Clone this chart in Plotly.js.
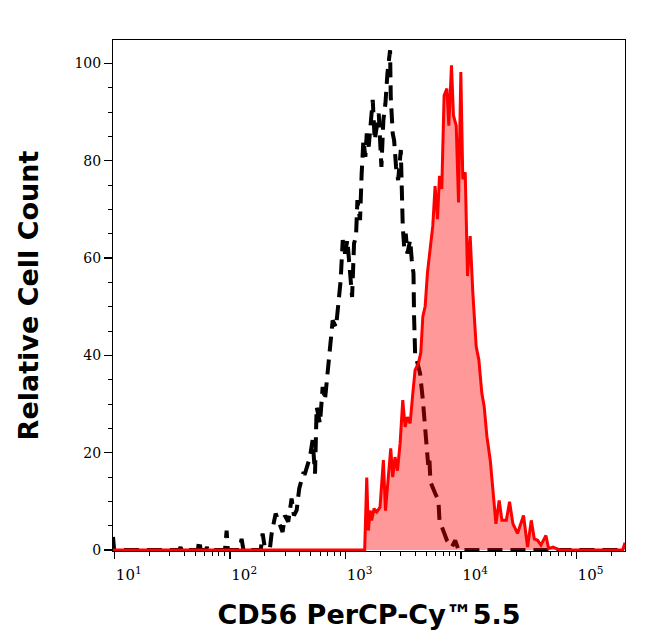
<!DOCTYPE html>
<html>
<head>
<meta charset="utf-8">
<script src="https://cdn.plot.ly/plotly-3.0.1.min.js"></script>
<style>html,body{margin:0;padding:0;background:#fff;}#chart{width:646px;height:641px;}</style>
</head>
<body>
<div id="chart"></div>
<script>
// Isotype control (black dashed): log10 of fluorescence, relative count
const controlLog = [0.985, 0.995, 1.56, 1.570, 1.58, 1.72, 1.731, 1.745, 1.79, 1.80, 1.81, 1.955, 1.969, 1.98, 2.08, 2.099, 2.115, 2.265, 2.281, 2.30, 2.345, 2.359, 2.394, 2.454, 2.474, 2.503, 2.532, 2.552, 2.576, 2.598, 2.633, 2.648, 2.691, 2.714, 2.735, 2.749, 2.778, 2.801, 2.821, 2.850, 2.865, 2.888, 2.917, 2.937, 2.957, 2.975, 2.995, 3.015, 3.038, 3.056, 3.073, 3.090, 3.102, 3.125, 3.139, 3.154, 3.171, 3.183, 3.200, 3.217, 3.235, 3.252, 3.270, 3.287, 3.310, 3.327, 3.345, 3.362, 3.385, 3.391, 3.408, 3.420, 3.437, 3.455, 3.478, 3.486, 3.495, 3.507, 3.521, 3.535, 3.559, 3.573, 3.588, 3.593, 3.602, 3.616, 3.645, 3.669, 3.700, 3.715, 3.725, 3.735, 3.776, 3.804, 3.813, 3.848, 3.877, 3.920, 3.949, 3.978, 5.42];
const controlCount = [2.7, 0, 0, 0.6, 0, 0, 2.0, 0, 0, 0.6, 0, 0, 4.0, 0, 0, 2.3, 0, 0, 3.4, 0.5, 0.5, 3.4, 7.5, 3.7, 7.1, 5.8, 10.6, 7.1, 8.2, 12.6, 15.7, 15.7, 19.1, 22.6, 15.7, 29.4, 26.0, 33.5, 30.8, 37.6, 43.1, 47.2, 45.8, 50.7, 55.4, 63.7, 60.9, 63.7, 56.8, 52.0, 63.0, 64.4, 71.9, 67.8, 77.4, 84.2, 80.8, 85.6, 82.9, 89.0, 92.5, 84.2, 87.7, 89.7, 78.7, 88.3, 91.8, 97.9, 102.7, 93.1, 85.6, 84.2, 78.7, 76.0, 82.2, 70.5, 66.4, 62.3, 65.0, 60.9, 63.7, 59.6, 56.8, 47.9, 40.4, 39.0, 36.3, 30.8, 21.0, 17.5, 19.0, 14.0, 11.6, 10.2, 6.1, 4.0, 2.0, 0.6, 2.0, 0, 0];

// CD56 PerCP-Cy5.5 stained (red filled)
const stainedLog = [0.985, 3.154, 3.165, 3.183, 3.197, 3.212, 3.226, 3.246, 3.270, 3.298, 3.327, 3.345, 3.371, 3.391, 3.408, 3.428, 3.449, 3.472, 3.495, 3.515, 3.535, 3.559, 3.582, 3.602, 3.631, 3.651, 3.669, 3.689, 3.709, 3.732, 3.755, 3.775, 3.796, 3.813, 3.833, 3.853, 3.877, 3.894, 3.917, 3.934, 3.958, 3.978, 3.998, 4.015, 4.036, 4.056, 4.079, 4.102, 4.131, 4.154, 4.180, 4.200, 4.224, 4.253, 4.276, 4.302, 4.330, 4.354, 4.392, 4.420, 4.449, 4.489, 4.541, 4.576, 4.608, 4.634, 4.663, 4.692, 4.735, 4.758, 4.796, 4.83, 4.86, 5.40, 5.42];
const stainedCount = [0, 0, 0, 14.9, 4.0, 8.1, 6.1, 8.5, 7.8, 8.8, 18.5, 8.1, 16.3, 20.9, 15.0, 19.1, 16.3, 21.9, 30.8, 25.3, 27.3, 26.0, 32.2, 37.0, 38.4, 40.5, 48.0, 50.1, 57.0, 62.5, 66.6, 74.8, 68.0, 76.9, 74.2, 93.4, 94.8, 87.2, 99.6, 89.3, 87.2, 71.4, 98.2, 76.2, 77.6, 56.3, 64.5, 52.8, 41.8, 39.1, 32.2, 29.5, 23.3, 18.4, 12.3, 5.4, 10.2, 6.1, 6.1, 9.9, 5.4, 3.4, 7.1, 0.6, 6.1, 2.3, 2.0, 1.0, 3.0, 0.3, 0.6, 0.3, 0, 0, 1.5];

// Axis ticks
const xTickVals = [10, 100, 1000, 10000, 100000];
const xTickText = ['10<sup>1</sup>', '10<sup>2</sup>', '10<sup>3</sup>', '10<sup>4</sup>', '10<sup>5</sup>'];
const xMinorVals = [];
[1, 10, 100, 1000, 10000, 100000].forEach(d => { for (let m = 2; m <= 9; m++) xMinorVals.push(m * d); });
const yTickVals = [0, 20, 40, 60, 80, 100];
const yTickText = ['0', '20', '40', '60', '80', '100'];

const toLin = a => a.map(v => Math.pow(10, v));

const traces = [
  {
    x: toLin(controlLog), y: controlCount, type: 'scatter', mode: 'lines',
    line: {color: '#000000', width: 4, dash: '15px,8px'},
    hoverinfo: 'skip', showlegend: false
  },
  {
    x: toLin(stainedLog), y: stainedCount, type: 'scatter', mode: 'lines',
    line: {color: '#ff0000', width: 3},
    fill: 'tozeroy', fillcolor: 'rgba(255,0,0,0.4)',
    hoverinfo: 'skip', showlegend: false
  }
];

const tickFont = {family: '"DejaVu Serif", serif', size: 14, color: '#000'};
const xTickFont = {family: '"DejaVu Serif", serif', size: 15, color: '#000'};
const titleFont = {family: '"DejaVu Sans", sans-serif', size: 27, color: '#000', weight: 'bold'};

const layout = {
  width: 646, height: 641,
  margin: {l: 113, r: 21, t: 40, b: 90, pad: 0},
  paper_bgcolor: '#fff', plot_bgcolor: '#fff',
  showlegend: false,
  xaxis: {
    type: 'log', range: [0.985, 5.42], autorange: false,
    tickmode: 'array', tickvals: xTickVals, ticktext: xTickText,
    ticks: 'outside', ticklen: 7, tickwidth: 1.5, tickcolor: '#000',
    ticklabelshift: 14, ticklabelstandoff: 3,
    minor: {tickmode: 'array', tickvals: xMinorVals, ticks: 'outside', ticklen: 4, tickwidth: 1, tickcolor: '#000', showgrid: false},
    showline: true, mirror: true, linecolor: '#000', linewidth: 1,
    showgrid: false, zeroline: false,
    tickfont: xTickFont,
    title: {text: 'CD56 PerCP-Cy™5.5', font: titleFont, standoff: 22}
  },
  yaxis: {
    range: [-0.2, 104.8], autorange: false,
    tickmode: 'array', tickvals: yTickVals, ticktext: yTickText,
    ticks: 'outside', ticklen: 8, tickwidth: 1.5, tickcolor: '#000',
    minor: {dtick: 5, ticks: 'outside', ticklen: 4, tickwidth: 1, tickcolor: '#000', showgrid: false},
    showline: true, mirror: true, linecolor: '#000', linewidth: 1,
    showgrid: false, zeroline: false,
    tickfont: tickFont,
    title: {text: 'Relative Cell Count', font: titleFont, standoff: 28}
  }
};

Plotly.newPlot('chart', traces, layout, {displayModeBar: false, staticPlot: true});
</script>
</body>
</html>
